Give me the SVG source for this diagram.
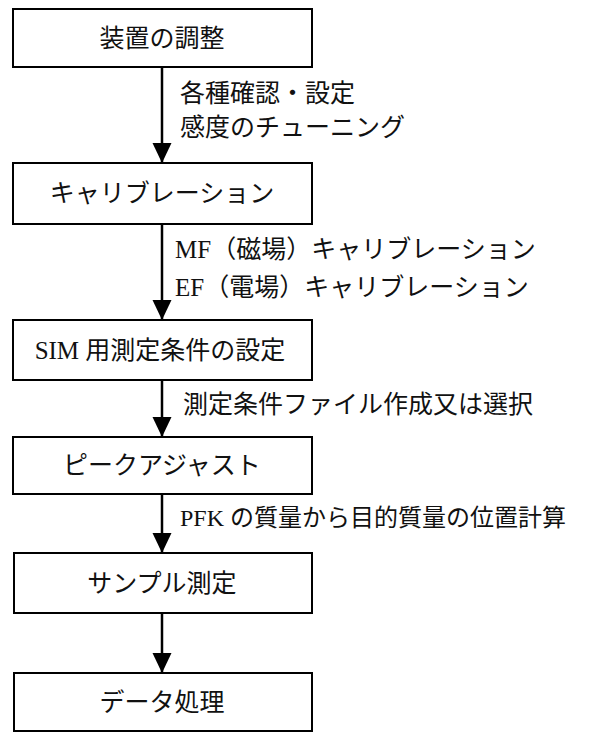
<svg xmlns="http://www.w3.org/2000/svg" width="592" height="734" viewBox="0 0 592 734">
<style>
.box{fill:#fff;stroke:#000;stroke-width:2}
.t{font-family:"Liberation Serif","Noto Sans CJK JP",serif;font-size:25px;fill:#111;dominant-baseline:central}
.s{font-size:24px}
.c{text-anchor:middle}
.ln{stroke:#000;stroke-width:2.5;fill:none}
</style>
<defs>
<marker id="ah" markerUnits="userSpaceOnUse" markerWidth="20" markerHeight="22" refX="20" refY="9.5" orient="auto" viewBox="0 0 20 19">
<path d="M0,0 L20,9.5 L0,19 Z" fill="#000"/>
</marker>
</defs>
<g id="connectors">
<line class="ln" x1="162" y1="67" x2="162" y2="163" marker-end="url(#ah)"/>
<line class="ln" x1="162" y1="224" x2="162" y2="320" marker-end="url(#ah)"/>
<line class="ln" x1="162" y1="380" x2="162" y2="437" marker-end="url(#ah)"/>
<line class="ln" x1="162" y1="494" x2="162" y2="553" marker-end="url(#ah)"/>
<line class="ln" x1="162" y1="613" x2="162" y2="673" marker-end="url(#ah)"/>
<text class="t" x="180" y="93">各種確認・設定</text>
<text class="t" x="180" y="127">感度のチューニング</text>
<text class="t" x="175" y="249">MF（磁場）キャリブレーション</text>
<text class="t" x="175" y="287">EF（電場）キャリブレーション</text>
<text class="t" x="183" y="404">測定条件ファイル作成又は選択</text>
<text class="t s" x="180" y="518">PFK の質量から目的質量の位置計算</text>
</g>
<g id="n1"><rect class="box" x="13" y="9" width="299" height="58"/><text class="t c" x="162" y="38">装置の調整</text></g>
<g id="n2"><rect class="box" x="13" y="163" width="299" height="61"/><text class="t c" x="162" y="193">キャリブレーション</text></g>
<g id="n3"><rect class="box" x="13" y="320" width="299" height="60"/><text class="t c" x="160" y="350">SIM 用測定条件の設定</text></g>
<g id="n4"><rect class="box" x="13" y="437" width="299" height="57"/><text class="t c" x="162" y="465">ピークアジャスト</text></g>
<g id="n5"><rect class="box" x="14" y="553" width="298" height="60"/><text class="t c" x="162" y="583">サンプル測定</text></g>
<g id="n6"><rect class="box" x="14" y="673" width="298" height="58"/><text class="t c" x="162" y="702">データ処理</text></g>
</svg>
